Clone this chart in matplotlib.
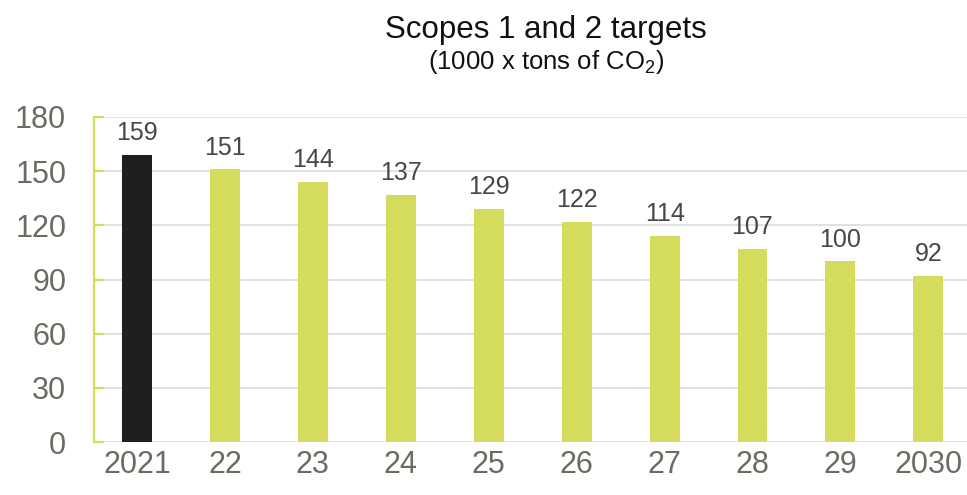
import numpy as np
import matplotlib
matplotlib.use('Agg')
import matplotlib.pyplot as plt

plt.rcParams['font.family'] = ['Liberation Sans', 'DejaVu Sans']

years = ['2021', '22', '23', '24', '25', '26', '27', '28', '29', '2030']
targets = [159, 151, 144, 137, 129, 122, 114, 107, 100, 92]
bar_colors = ['#1f1f1d'] + ['#d4db5d'] * 9

grey = '#6b6b62'

fig = plt.figure(figsize=(9.67, 4.95), dpi=100)
ax = fig.add_axes([94/967, 53/495, 1 - 94/967, 325/495])

x = np.arange(len(years))
ax.bar(x, targets, width=0.34, color=bar_colors, zorder=3)

for xi, v in zip(x, targets):
    ax.annotate(str(v), (xi, v), xytext=(0, 7), textcoords='offset points',
                ha='center', va='bottom', fontsize=18, color='#474747')

ax.set_ylim(0, 180)
ax.set_xlim(-0.49, 9.44)
ax.set_yticks(range(0, 181, 30))
ax.set_xticks(x)
ax.set_xticklabels(years)
ax.yaxis.grid(True, color='#dcdcdc', linewidth=1.2, zorder=0)

for s in ['top', 'right', 'bottom']:
    ax.spines[s].set_visible(False)
ax.spines['left'].set_color('#d4db5d')
ax.spines['left'].set_linewidth(1.6)

ax.tick_params(axis='y', direction='in', length=7, width=1.6, color='#d4db5d',
               labelsize=22, labelcolor=grey, pad=20)
ax.tick_params(axis='x', length=0, labelsize=22, labelcolor=grey, pad=6)

fig.text(546/967, 1 - 30/495, 'Scopes 1 and 2 targets', ha='center', va='center',
         fontsize=22.5, color='#111111')
fig.text(546/967, 1 - 62/495, r'(1000 x tons of CO$\mathregular{_2}$)', ha='center',
         va='center', fontsize=18.5, color='#111111')

fig.savefig('out.png', dpi=100)
